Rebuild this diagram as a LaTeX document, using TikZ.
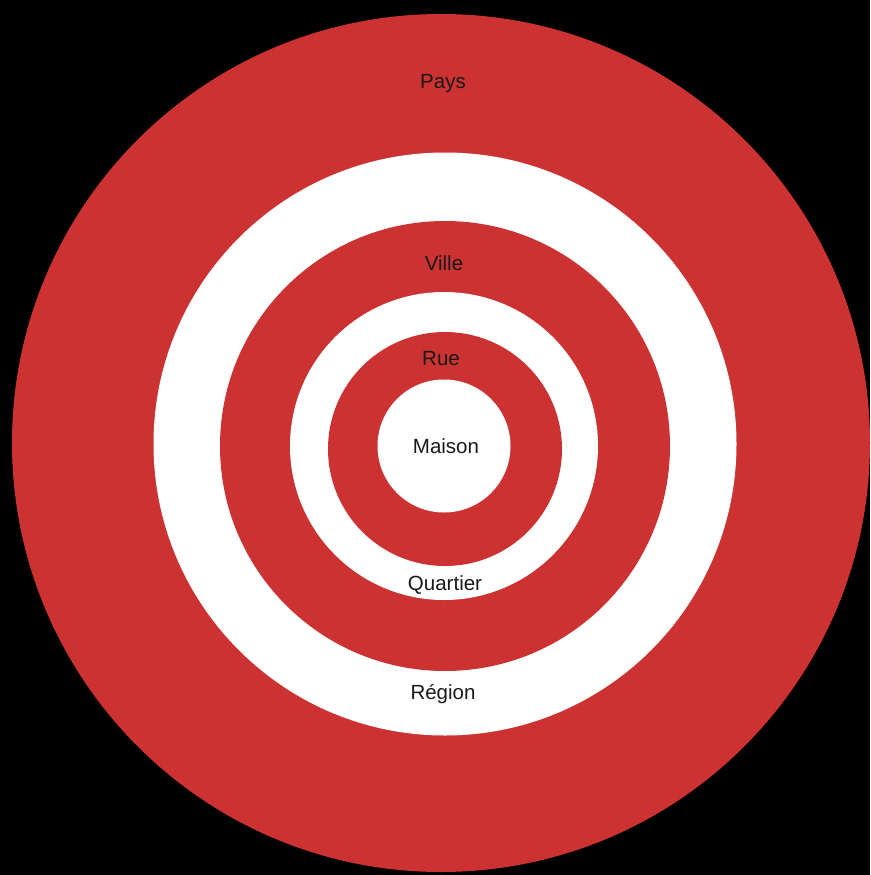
\documentclass[tikz,border=0pt]{standalone}
\usepackage{fontspec}
\setmainfont{Liberation Sans}
\usepackage{tikz}
\definecolor{cible}{RGB}{205,50,50}
\tikzset{
    disc/.style={circle,draw=none,inner sep=0pt,minimum size=#1},
    rougedisc/.style={disc=#1,fill=cible},
    blancdisc/.style={disc=#1,fill=white},
    lbl/.style={font=\fontsize{20.5}{22}\selectfont,text=black!90,inner sep=0pt}
}

\begin{document}
\begin{tikzpicture}[x=1pt,y=-1pt]
    \fill[black] (0,0) rectangle (870,875);
    \useasboundingbox (0,0) rectangle (870,875);
    \node[rougedisc=858pt] (dPays) at (441,443) {};
    \node[blancdisc=583pt] (dRegion) at (445,444) {};
    \node[rougedisc=450pt] (dVille) at (445,446) {};
    \node[blancdisc=308pt] (dQuartier) at (444,446) {};
    \node[rougedisc=234pt] (dRue) at (445,449) {};
    \node[blancdisc=133pt] (dMaison) at (444,446) {};
    \node[lbl] (pays) at (443,84) {Pays};
    \node[lbl] (ville) at (444,263) {Ville};
    \node[lbl] (rue) at (441,359) {Rue};
    \node[lbl] (maison) at (446,446) {Maison};
    \node[lbl] (quartier) at (445,585) {Quartier};
    \node[lbl] (region) at (443,694) {Région};
\end{tikzpicture}
\end{document}
